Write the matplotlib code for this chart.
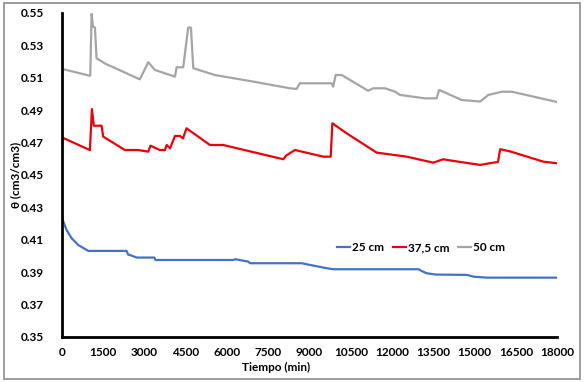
import matplotlib
matplotlib.use('Agg')
import matplotlib.pyplot as plt
import matplotlib.patches as mpatches
import numpy as np

# Datos
t_25 = [0, 170, 350, 590, 840, 960, 2350, 2410, 2470, 2720, 3360, 3400, 6230, 6300, 6770, 6840,
        8720, 9000, 9300, 9600, 9860, 12960, 13100, 13260, 13600, 14720, 14960, 15440, 18000]
v_25 = [0.4235, 0.416, 0.411, 0.4068, 0.4043, 0.4031, 0.4031, 0.4008, 0.4006, 0.399, 0.399, 0.3975, 0.3975, 0.398, 0.3965, 0.3955,
        0.3955, 0.3945, 0.3935, 0.3925, 0.3918, 0.3918, 0.3905, 0.3893, 0.3885, 0.3883, 0.3872, 0.3866, 0.3866]

t_375 = [0, 1000, 1018, 1090, 1160, 1440, 1500, 2290, 2770, 3140, 3220, 3560, 3745, 3810, 3930, 4110,
         4290, 4400, 4530, 5380, 5860, 8050, 8150, 8470, 9500, 9770, 9830, 10350, 11440, 12530,
         13500, 13860, 14100, 15200, 15680, 15850, 15930, 16300, 17500, 18000]
v_375 = [0.4732, 0.4655, 0.4654, 0.4907, 0.4804, 0.4804, 0.4737, 0.4654, 0.4654, 0.4644, 0.4681, 0.4654, 0.4654, 0.4685, 0.4664, 0.4741,
         0.4741, 0.4726, 0.4788, 0.4685, 0.4685, 0.4597, 0.462, 0.4654, 0.4613, 0.4613, 0.4819, 0.4757, 0.4638, 0.4613,
         0.4576, 0.4597, 0.459, 0.4562, 0.4576, 0.458, 0.4659, 0.4645, 0.4582, 0.4572]

t_50 = [0, 1000, 1030, 1080, 1130, 1200, 1260, 1600, 2000, 2830, 2910, 3140, 3380, 4110, 4170, 4410, 4590,
        4690, 4775, 5560, 7000, 8290, 8530, 8650, 9800, 9860, 9950, 10170, 11130, 11310, 11745,
        12110, 12290, 13200, 13620, 13710, 14530, 15200, 15500, 15990, 16350, 17930, 18000]
v_50 = [0.5155, 0.5113, 0.5113, 0.5495, 0.5416, 0.541, 0.522, 0.5185, 0.5155, 0.509, 0.5117, 0.5196, 0.5148, 0.5107, 0.5165, 0.5165, 0.541,
        0.541, 0.5159, 0.5117, 0.5075, 0.5035, 0.5031, 0.5066, 0.5066, 0.5045, 0.5117, 0.5117, 0.502, 0.5035, 0.5035,
        0.5014, 0.4994, 0.4973, 0.4973, 0.5025, 0.4963, 0.4953, 0.4994, 0.5014, 0.5014, 0.4953, 0.495]

x_ticks = np.arange(0, 18001, 1500)
y_ticks = np.arange(0.35, 0.5501, 0.02)

fuente = 'Lato'
tam = 8.5

fig = plt.figure(figsize=(5.84, 3.82), dpi=100)
ax = fig.add_axes([0.106, 0.118, 0.848, 0.848])

ax.plot(t_25, v_25, color='#4472C4', lw=1.6, label='25 cm')
ax.plot(t_375, v_375, color='#E8000B', lw=1.6, label='37,5 cm')
ax.plot(t_50, v_50, color='#A5A5A5', lw=1.6, label='50 cm')

ax.set_xlim(0, 18000)
ax.set_ylim(0.35, 0.55)
ax.set_xticks(x_ticks)
ax.set_yticks(y_ticks)
ax.set_xticklabels([str(x) for x in x_ticks], fontsize=tam, fontweight='bold', family=fuente)
ax.set_yticklabels(['%.2f' % y for y in y_ticks], fontsize=tam, fontweight='bold', family=fuente)
ax.tick_params(axis='both', length=0)
ax.tick_params(axis='x', pad=7)
ax.tick_params(axis='y', pad=13)

for s in ['top', 'right']:
    ax.spines[s].set_visible(False)
for s in ['left', 'bottom']:
    ax.spines[s].set_linewidth(2)
    ax.spines[s].set_color('black')

ax.set_xlabel('Tiempo (min)', fontsize=tam, fontweight='bold', family=fuente)
ax.xaxis.set_label_coords(0.432, -0.076)
ax.set_ylabel('θ (cm3/cm3)', fontsize=tam, fontweight='bold', family=fuente)
ax.yaxis.set_label_coords(-0.083, 0.5)

leg = ax.legend(loc='center', bbox_to_anchor=(0.725, 0.275), ncol=3, frameon=False,
                handlelength=1.1, handletextpad=0.2, columnspacing=0.7,
                prop={'family': fuente, 'weight': 'bold', 'size': tam})

# borde exterior gris
fig.patches.append(mpatches.Rectangle((0.006, 0.008), 0.988, 0.984, transform=fig.transFigure,
                                      fill=False, edgecolor='#8C8C8C', lw=1.2))

fig.savefig('out.png', dpi=100)
